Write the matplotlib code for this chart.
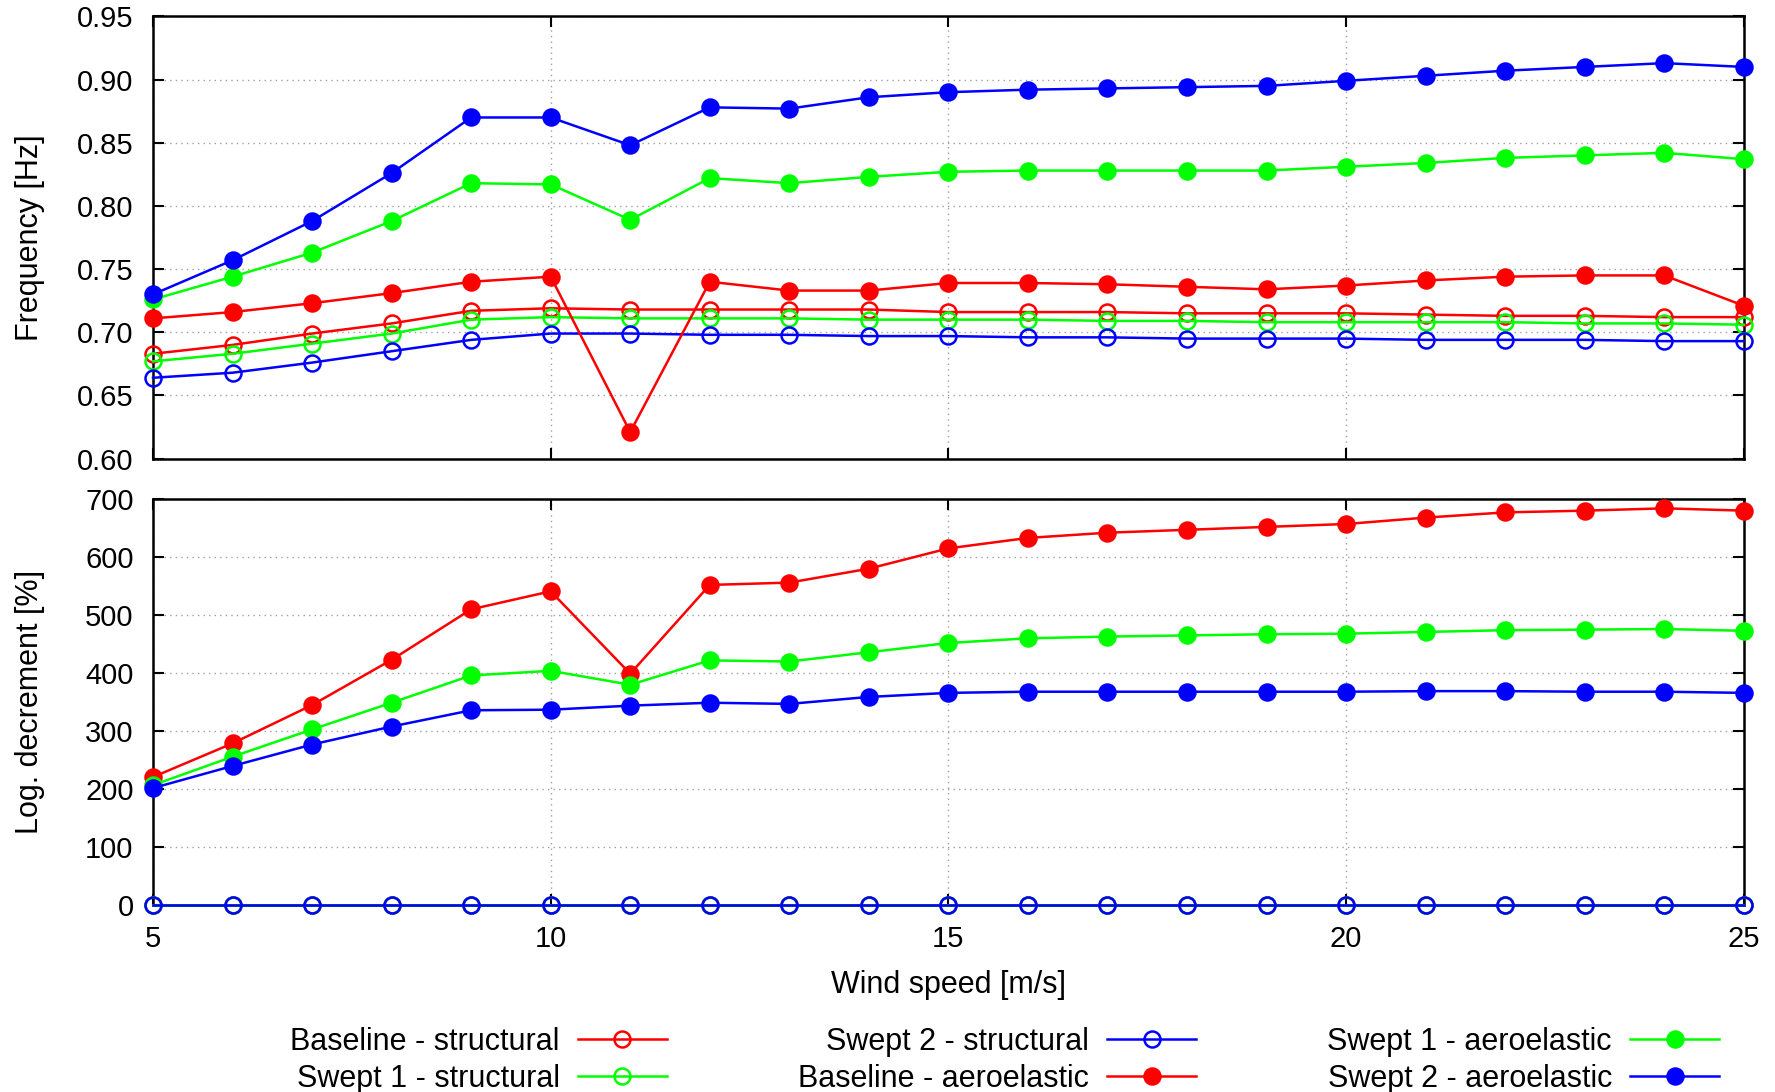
import matplotlib
matplotlib.use('Agg')
import matplotlib.pyplot as plt
import numpy as np

plt.rcParams['font.family'] = ['Liberation Sans', 'DejaVu Sans']

wind = np.arange(5, 26)

# frequency [Hz]
freq_base_str = [0.683, 0.690, 0.699, 0.707, 0.717, 0.719, 0.718, 0.718, 0.718, 0.718, 0.716,
                 0.716, 0.716, 0.715, 0.715, 0.715, 0.714, 0.713, 0.713, 0.712, 0.712]
freq_sw1_str = [0.677, 0.683, 0.691, 0.699, 0.710, 0.712, 0.711, 0.711, 0.711, 0.710, 0.710,
                0.710, 0.709, 0.709, 0.708, 0.708, 0.708, 0.708, 0.707, 0.707, 0.706]
freq_sw2_str = [0.664, 0.668, 0.676, 0.685, 0.694, 0.699, 0.699, 0.698, 0.698, 0.697, 0.697,
                0.696, 0.696, 0.695, 0.695, 0.695, 0.694, 0.694, 0.694, 0.693, 0.693]
freq_base_ae = [0.711, 0.716, 0.723, 0.731, 0.740, 0.744, 0.621, 0.740, 0.733, 0.733, 0.739,
                0.739, 0.738, 0.736, 0.734, 0.737, 0.741, 0.744, 0.745, 0.745, 0.721]
freq_sw1_ae = [0.726, 0.744, 0.763, 0.788, 0.818, 0.817, 0.789, 0.822, 0.818, 0.823, 0.827,
               0.828, 0.828, 0.828, 0.828, 0.831, 0.834, 0.838, 0.840, 0.842, 0.837]
freq_sw2_ae = [0.730, 0.757, 0.788, 0.826, 0.870, 0.870, 0.848, 0.878, 0.877, 0.886, 0.890,
               0.892, 0.893, 0.894, 0.895, 0.899, 0.903, 0.907, 0.910, 0.913, 0.910]

# logarithmic decrement [%]
ld_base_str = [0] * 21
ld_sw1_str = [0] * 21
ld_sw2_str = [0] * 21
ld_base_ae = [221, 279, 345, 423, 510, 541, 399, 552, 556, 580, 615,
              633, 642, 647, 652, 657, 668, 677, 680, 684, 680]
ld_sw1_ae = [207, 256, 303, 349, 396, 404, 380, 422, 420, 436, 452,
             460, 463, 465, 467, 468, 471, 474, 475, 476, 473]
ld_sw2_ae = [202, 240, 277, 308, 336, 337, 344, 349, 347, 359, 366,
             368, 368, 368, 368, 368, 369, 369, 368, 368, 366]

labels = ['Baseline - structural', 'Swept 1 - structural', 'Swept 2 - structural',
          'Baseline - aeroelastic', 'Swept 1 - aeroelastic', 'Swept 2 - aeroelastic']
colors = ['#ff0000', '#00ff00', '#0000ff', '#ff0000', '#00ff00', '#0000ff']
filled = [False, False, False, True, True, True]

freq = [freq_base_str, freq_sw1_str, freq_sw2_str, freq_base_ae, freq_sw1_ae, freq_sw2_ae]
ld = [ld_base_str, ld_sw1_str, ld_sw2_str, ld_base_ae, ld_sw1_ae, ld_sw2_ae]

fig = plt.figure(figsize=(17.75, 10.92), dpi=100)
ax1 = fig.add_axes([0.0862, 0.580, 0.8962, 0.405])
ax2 = fig.add_axes([0.0862, 0.171, 0.8962, 0.372])


def draw(ax, data):
    handles = []
    for y, c, f, lab in zip(data, colors, filled, labels):
        h, = ax.plot(wind, y, color=c, lw=1.8, marker='o', ms=11.5,
                     markerfacecolor=c if f else 'none', markeredgecolor=c,
                     markeredgewidth=1.8, label=lab, clip_on=False, zorder=3)
        handles.append(h)
    ax.set_xlim(5, 25)
    ax.set_xticks([5, 10, 15, 20, 25])
    ax.grid(True, color='#a0a0a0', ls=(0, (1, 3)), lw=1.0)
    ax.tick_params(direction='in', length=8, width=1.5, top=True, right=True,
                   labelsize=21, pad=14)
    for s in ax.spines.values():
        s.set_linewidth(1.8)
    return handles


handles = draw(ax1, freq)
ax1.set_ylim(0.60, 0.95)
ax1.set_yticks(np.arange(0.60, 0.951, 0.05))
ax1.set_yticklabels(['%.2f' % v for v in np.arange(0.60, 0.951, 0.05)])
ax1.tick_params(labelbottom=False)
ax1.set_ylabel('Frequency [Hz]', fontsize=22)
ax1.yaxis.set_label_coords(-0.068, 0.5)

draw(ax2, ld)
ax2.set_ylim(0, 700)
ax2.set_yticks(np.arange(0, 701, 100))
ax2.set_ylabel('Log. decrement [%]', fontsize=22)
ax2.yaxis.set_label_coords(-0.068, 0.5)
ax2.set_xlabel('Wind speed [m/s]', fontsize=22)
ax2.xaxis.set_label_coords(0.5, -0.16)

fig.legend(handles=handles, ncol=3, loc='center', bbox_to_anchor=(0.566, 0.029),
           frameon=False, markerfirst=False, fontsize=22, handlelength=2.9,
           columnspacing=4.3, handletextpad=0.6, labelspacing=0.25)

fig.savefig('out.png', dpi=100)
